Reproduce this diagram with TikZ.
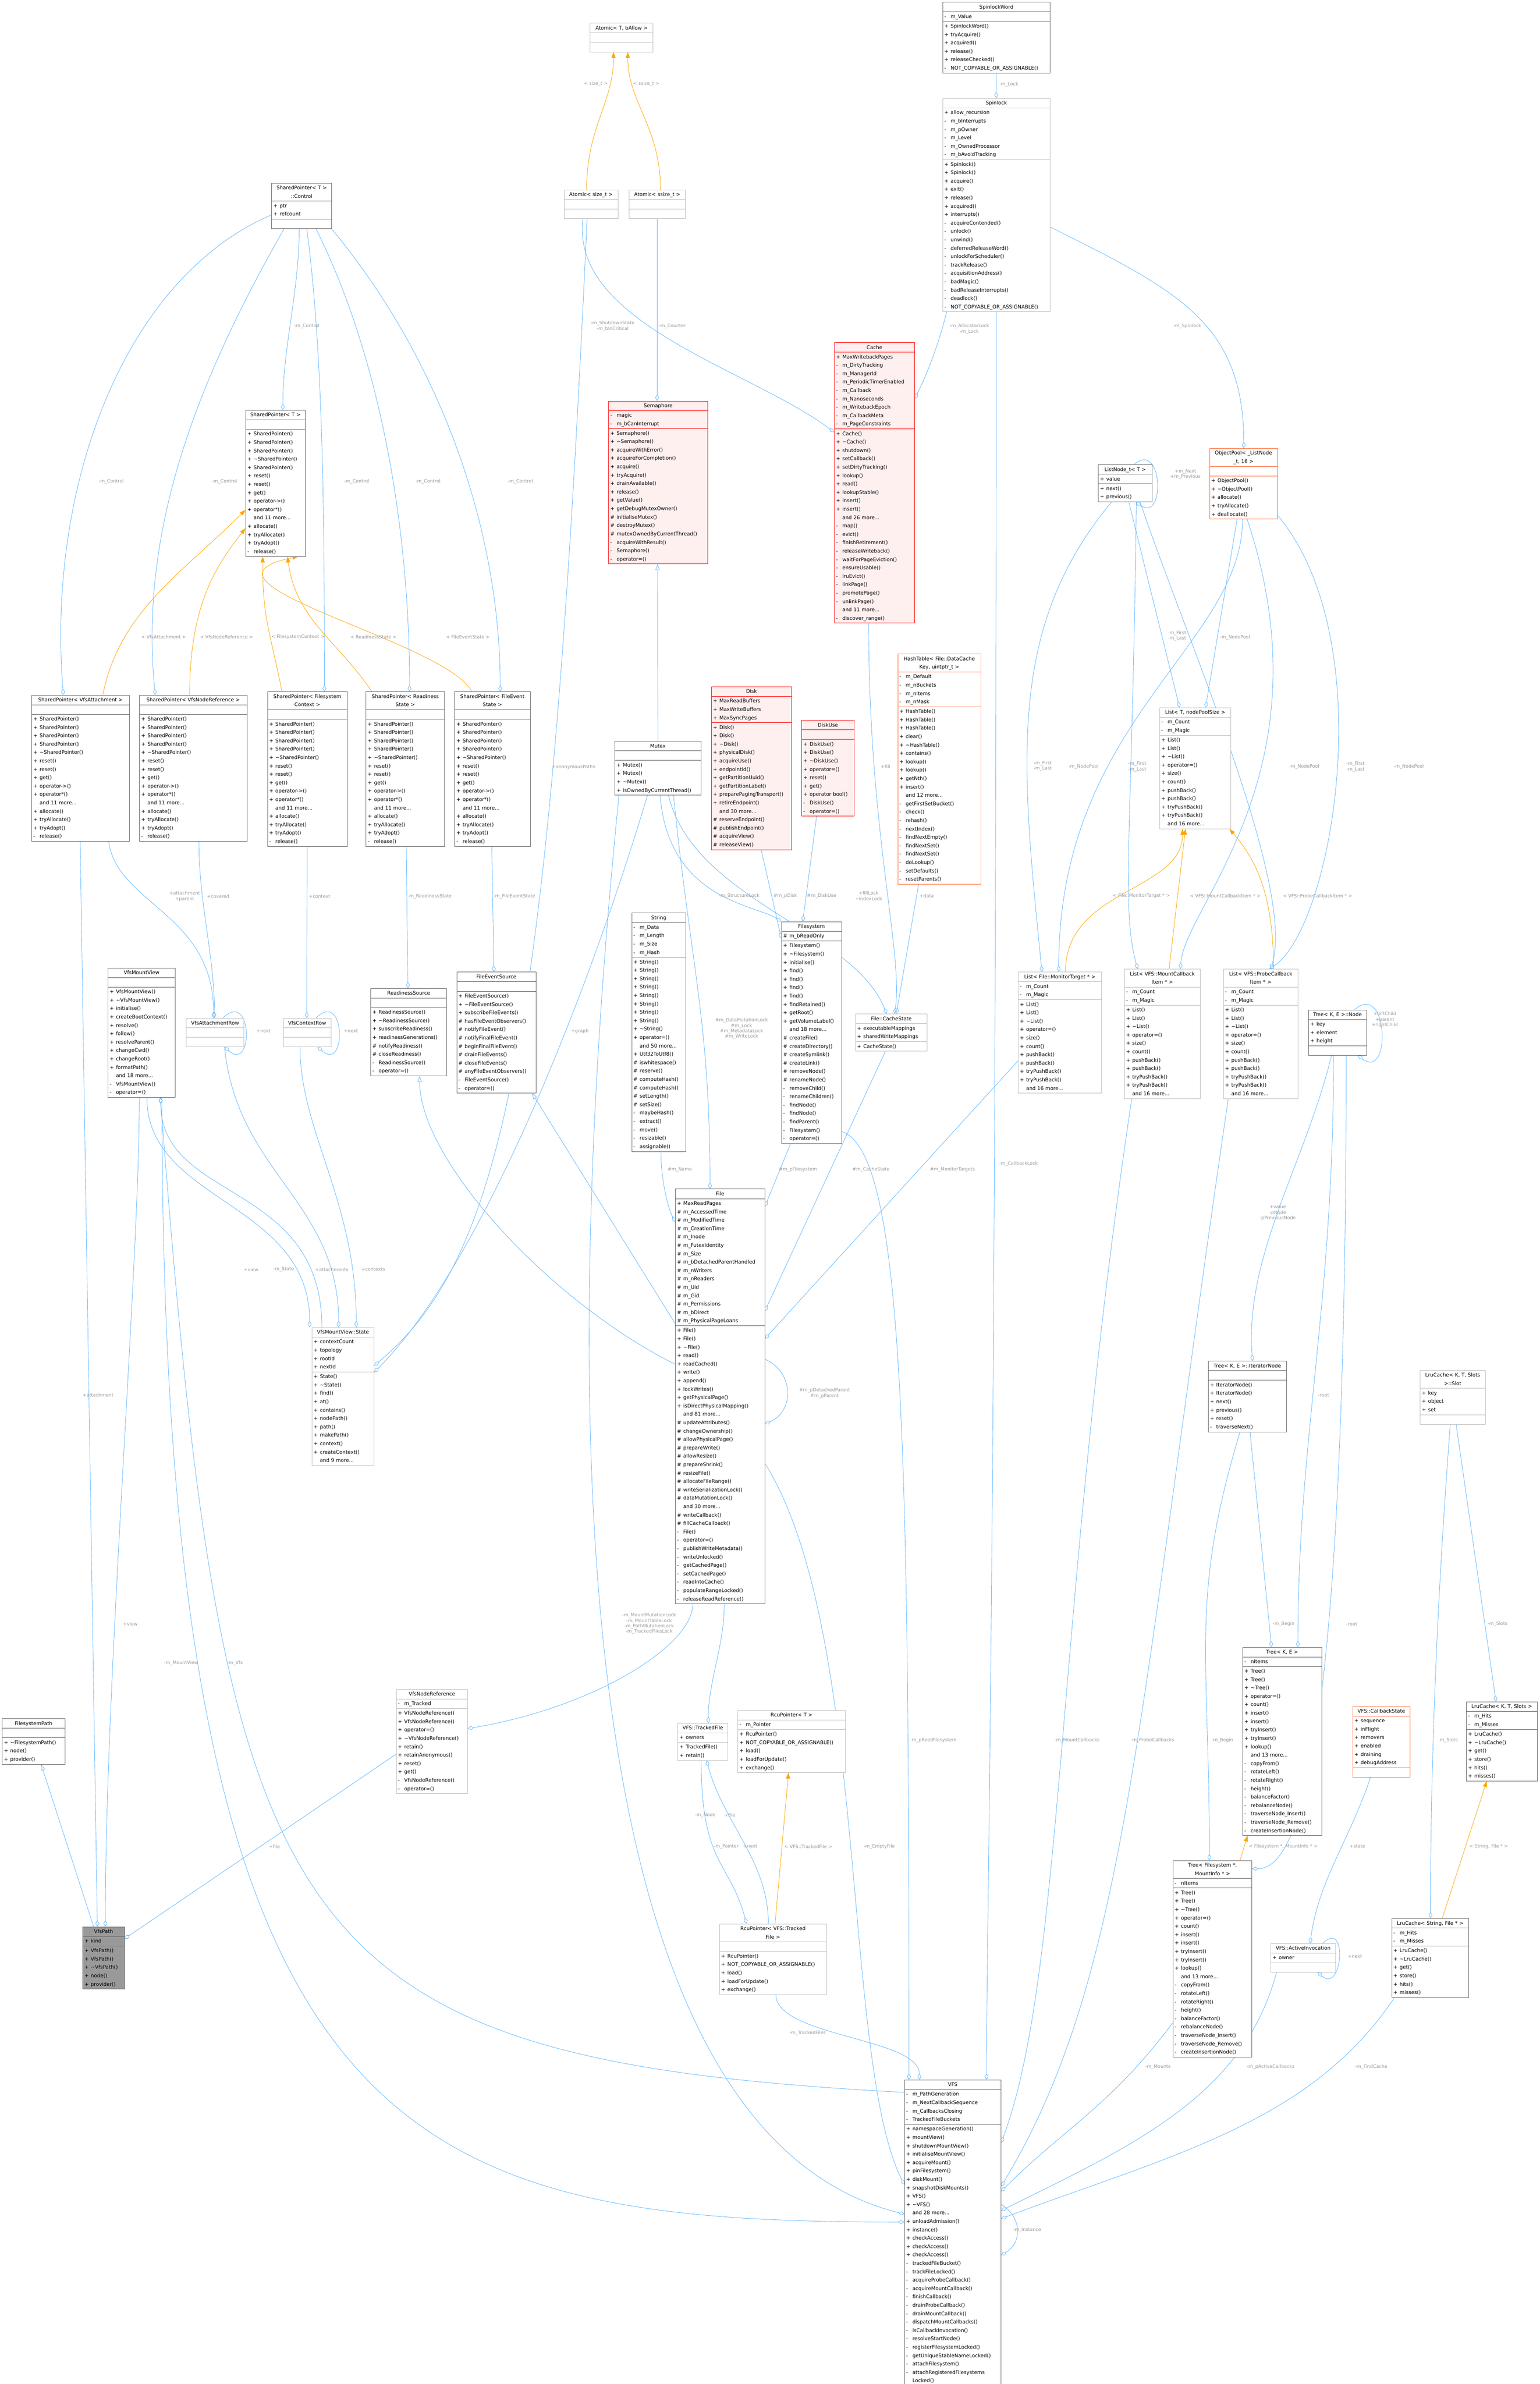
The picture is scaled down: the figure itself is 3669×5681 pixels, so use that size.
\documentclass[tikz,border=0pt]{standalone}
\usepackage{fontspec}
\setmainfont{DejaVu Sans}
\usetikzlibrary{shapes.multipart,arrows.meta}
\definecolor{eblue}{HTML}{63B8FF}
\definecolor{eorg}{HTML}{FFA500}
\definecolor{lblc}{HTML}{9A9A9A}
\definecolor{bgray}{HTML}{666666}
\definecolor{lgray}{HTML}{BFBFBF}
\definecolor{redfill}{HTML}{FFF0F0}
\definecolor{orgb}{HTML}{FF6A33}
\definecolor{rootf}{HTML}{999999}
\pgfdeclarelayer{bb}\pgfdeclarelayer{bg}\pgfsetlayers{bb,bg,main}
\newcommand\clsfont{\fontsize{12}{20}\selectfont}
\newcommand\T[1]{\makebox[\hsize][c]{\strut #1}\par}
\newcommand\rw[2]{\strut\makebox[15pt][l]{#1}#2\par}
\newcommand\pub[1]{\rw{+}{#1}}
\newcommand\pri[1]{\rw{-}{#1}}
\newcommand\pro[1]{\rw{\#}{#1}}
\newcommand\nop[1]{\rw{}{#1}}
\newcommand\emp{\strut\par}
\newcommand\tl{\textasciitilde}
\newcommand\cls[8]{\node[cls,#5,text width=\dimexpr #4pt-8pt\relax] (#1) at (#2,#3) {#6\nodepart{two}#7\nodepart{three}#8};}
\newcommand\Tp[2]{([shift={(#2,0)}]#1.north west)}
\newcommand\Bt[2]{([shift={(#2,0)}]#1.south west)}
\newcommand\Lf[2]{([shift={(0,#2)}]#1.north west)}
\newcommand\Rt[2]{([shift={(0,#2)}]#1.north east)}
\newcommand\ed[5][agg]{\draw[#1] #2 .. controls +(#4) and +(#5) .. #3;}
\newcommand\lb[3][west]{\node[lbl,anchor=#1] at (#2) {#3};}
\newcommand\spm{\pub{SharedPointer()}\pub{SharedPointer()}\pub{SharedPointer()}\pub{SharedPointer()}\pub{\tl SharedPointer()}\pub{reset()}\pub{reset()}\pub{get()}\pub{operator->()}\pub{operator*()}\nop{and 11 more...}\pub{allocate()}\pub{tryAllocate()}\pub{tryAdopt()}\pri{release()}}
\newcommand\lsm{\pri{m\_Count}\pri{m\_Magic}}
\newcommand\lmm{\pub{List()}\pub{List()}\pub{\tl List()}\pub{operator=()}\pub{size()}\pub{count()}\pub{pushBack()}\pub{pushBack()}\pub{tryPushBack()}\pub{tryPushBack()}\nop{and 16 more...}}
\newcommand\trm{\pub{Tree()}\pub{Tree()}\pub{\tl Tree()}\pub{operator=()}\pub{count()}\pub{insert()}\pub{insert()}\pub{tryInsert()}\pub{tryInsert()}\pub{lookup()}\nop{and 13 more...}\pri{copyFrom()}\pri{rotateLeft()}\pri{rotateRight()}\pri{height()}\pri{balanceFactor()}\pri{rebalanceNode()}\pri{traverseNode\_Insert()}\pri{traverseNode\_Remove()}\pri{createInsertionNode()}}
\newcommand\lrm{\pub{LruCache()}\pub{\tl LruCache()}\pub{get()}\pub{store()}\pub{hits()}\pub{misses()}}
\newcommand\rcm{\pub{RcuPointer()}\pub{NOT\_COPYABLE\_OR\_ASSIGNABLE()}\pub{load()}\pub{loadForUpdate()}\pub{exchange()}}
\begin{document}
\begin{tikzpicture}[x=1pt,y=-1pt,
 cls/.style={rectangle split,rectangle split parts=3,draw=bgray,fill=white,line width=0.8pt,inner xsep=4pt,inner ysep=1pt,align=left,font=\clsfont,anchor=north west},
 lt/.style={draw=lgray},
 rd/.style={draw=red,fill=redfill},
 og/.style={draw=orgb},
 rt/.style={fill=rootf},
 agg/.style={draw=eblue,line width=1pt,-{Diamond[open,length=15pt,width=9pt]}},
 inh/.style={draw=eblue,line width=1pt,-{Triangle[open,length=14pt,width=10pt]}},
 tpl/.style={draw=eorg,line width=1pt,-{Triangle[length=14pt,width=10pt]}},
 lbl/.style={text=lblc,font=\fontsize{11}{13}\selectfont,align=center,inner sep=1pt}]
\begin{pgfonlayer}{bb}
\fill[white] (0,0) rectangle (3669,5681);
\end{pgfonlayer}
\useasboundingbox (0,0) rectangle (3669,5681);
% ---------- classes
\cls{AtT}{1406}{55}{150}{lt}{\T{Atomic< T, bAllow >}}{\emp}{\emp}
\cls{AtSz}{1344}{452}{128}{lt}{\T{Atomic< size\_t >}}{\emp}{\emp}
\cls{AtSs}{1499}{452}{134}{lt}{\T{Atomic< ssize\_t >}}{\emp}{\emp}
\cls{Ctrl}{647}{436}{143}{}{\T{SharedPointer< T >}\T{::Control}}{\pub{ptr}\pub{refcount}}{\emp}
\cls{SPT}{585}{977}{142}{}{\T{SharedPointer< T >}}{\emp}{\pub{SharedPointer()}\pub{SharedPointer()}\pub{SharedPointer()}\pub{\tl SharedPointer()}\pub{SharedPointer()}\pub{reset()}\pub{reset()}\pub{get()}\pub{operator->()}\pub{operator*()}\nop{and 11 more...}\pub{allocate()}\pub{tryAllocate()}\pub{tryAdopt()}\pri{release()}}
\cls{SPA}{75}{1656}{233}{}{\T{SharedPointer< VfsAttachment >}}{\emp}{\spm}
\cls{SPN}{332}{1656}{256}{}{\T{SharedPointer< VfsNodeReference >}}{\emp}{\spm}
\cls{SPF}{637}{1648}{190}{}{\T{SharedPointer< Filesystem}\T{Context >}}{\emp}{\spm}
\cls{SPR}{872}{1648}{187}{}{\T{SharedPointer< Readiness}\T{State >}}{\emp}{\spm}
\cls{SPE}{1083}{1648}{180}{}{\T{SharedPointer< FileEvent}\T{State >}}{\emp}{\spm}
\cls{Sem}{1450}{955}{236}{rd}{\T{Semaphore}}{\pri{magic}\pri{m\_bCanInterrupt}}{\pub{Semaphore()}\pub{\tl Semaphore()}\pub{acquireWithError()}\pub{acquireForCompletion()}\pub{acquire()}\pub{tryAcquire()}\pub{drainAvailable()}\pub{release()}\pub{getValue()}\pub{getDebugMutexOwner()}\pro{initialiseMutex()}\pro{destroyMutex()}\pro{mutexOwnedByCurrentThread()}\pri{acquireWithResult()}\pri{Semaphore()}\pri{operator=()}}
\cls{Cache}{1988}{816}{191}{rd}{\T{Cache}}{\pub{MaxWritebackPages}\pri{m\_DirtyTracking}\pri{m\_ManagerId}\pri{m\_PeriodicTimerEnabled}\pri{m\_Callback}\pri{m\_Nanoseconds}\pri{m\_WritebackEpoch}\pri{m\_CallbackMeta}\pri{m\_PageConstraints}}{\pub{Cache()}\pub{\tl Cache()}\pub{shutdown()}\pub{setCallback()}\pub{setDirtyTracking()}\pub{lookup()}\pub{read()}\pub{lookupStable()}\pub{insert()}\pub{insert()}\nop{and 26 more...}\pri{map()}\pri{evict()}\pri{finishRetirement()}\pri{releaseWriteback()}\pri{waitForPageEviction()}\pri{ensureUsable()}\pri{lruEvict()}\pri{linkPage()}\pri{promotePage()}\pri{unlinkPage()}\nop{and 11 more...}\pri{discover\_range()}}
\cls{Mutex}{1465}{1766}{205}{}{\T{Mutex}}{\emp}{\pub{Mutex()}\pub{Mutex()}\pub{\tl Mutex()}\pub{isOwnedByCurrentThread()}}
\cls{Disk}{1695}{1636}{191}{rd}{\T{Disk}}{\pub{MaxReadBuffers}\pub{MaxWriteBuffers}\pub{MaxSyncPages}}{\pub{Disk()}\pub{Disk()}\pub{\tl Disk()}\pub{physicalDisk()}\pub{acquireUse()}\pub{endpointId()}\pub{getPartitionUuid()}\pub{getPartitionLabel()}\pub{preparePagingTransport()}\pub{retireEndpoint()}\nop{and 30 more...}\pro{reserveEndpoint()}\pro{publishEndpoint()}\pro{acquireView()}\pro{releaseView()}}
\cls{DiskUse}{1910}{1716}{125}{rd}{\T{DiskUse}}{\emp}{\pub{DiskUse()}\pub{DiskUse()}\pub{\tl DiskUse()}\pub{operator=()}\pub{reset()}\pub{get()}\pub{operator bool()}\pri{DiskUse()}\pri{operator=()}}
\cls{HT}{2139}{1558}{198}{og}{\T{HashTable< File::DataCache}\T{Key, uintptr\_t >}}{\pri{m\_Default}\pri{m\_nBuckets}\pri{m\_nItems}\pri{m\_nMask}}{\pub{HashTable()}\pub{HashTable()}\pub{HashTable()}\pub{clear()}\pub{\tl HashTable()}\pub{contains()}\pub{lookup()}\pub{lookup()}\pub{getNth()}\pub{insert()}\nop{and 12 more...}\pri{getFirstSetBucket()}\pri{check()}\pri{rehash()}\pri{nextIndex()}\pri{findNextEmpty()}\pri{findNextSet()}\pri{findNextSet()}\pri{doLookup()}\pri{setDefaults()}\pri{resetParents()}}
\cls{SpW}{2246}{5}{256}{}{\T{SpinlockWord}}{\pri{m\_Value}}{\pub{SpinlockWord()}\pub{tryAcquire()}\pub{acquired()}\pub{release()}\pub{releaseChecked()}\pri{NOT\_COPYABLE\_OR\_ASSIGNABLE()}}
\cls{Spl}{2246}{234}{256}{lt}{\T{Spinlock}}{\pub{allow\_recursion}\pri{m\_bInterrupts}\pri{m\_pOwner}\pri{m\_Level}\pri{m\_OwnedProcessor}\pri{m\_bAvoidTracking}}{\pub{Spinlock()}\pub{Spinlock()}\pub{acquire()}\pub{exit()}\pub{release()}\pub{acquired()}\pub{interrupts()}\pri{acquireContended()}\pri{unlock()}\pri{unwind()}\pri{deferredReleaseWord()}\pri{unlockForScheduler()}\pri{trackRelease()}\pri{acquisitionAddress()}\pri{badMagic()}\pri{badReleaseInterrupts()}\pri{deadlock()}\pri{NOT\_COPYABLE\_OR\_ASSIGNABLE()}}
\cls{Str}{1505}{2175}{129}{}{\T{String}}{\pri{m\_Data}\pri{m\_Length}\pri{m\_Size}\pri{m\_Hash}}{\pub{String()}\pub{String()}\pub{String()}\pub{String()}\pub{String()}\pub{String()}\pub{String()}\pub{String()}\pub{\tl String()}\pub{operator=()}\nop{and 50 more...}\pub{Utf32ToUtf8()}\pro{iswhitespace()}\pro{reserve()}\pro{computeHash()}\pro{computeHash()}\pro{setLength()}\pro{setSize()}\pri{maybeHash()}\pri{extract()}\pri{move()}\pri{resizable()}\pri{assignable()}}
\cls{Fs}{1862}{2196}{143}{}{\T{Filesystem}}{\pro{m\_bReadOnly}}{\pub{Filesystem()}\pub{\tl Filesystem()}\pub{initialise()}\pub{find()}\pub{find()}\pub{find()}\pub{find()}\pub{findRetained()}\pub{getRoot()}\pub{getVolumeLabel()}\nop{and 18 more...}\pro{createFile()}\pro{createDirectory()}\pro{createSymlink()}\pro{createLink()}\pro{removeNode()}\pro{renameNode()}\pri{removeChild()}\pri{renameChildren()}\pri{findNode()}\pri{findNode()}\pri{findParent()}\pri{Filesystem()}\pri{operator=()}}
\cls{CS}{2038}{2416}{171}{lt}{\T{File::CacheState}}{\pub{executableMappings}\pub{sharedWriteMappings}}{\pub{CacheState()}}
\cls{File}{1609}{2833}{213}{}{\T{File}}{\pub{MaxReadPages}\pro{m\_AccessedTime}\pro{m\_ModifiedTime}\pro{m\_CreationTime}\pro{m\_Inode}\pro{m\_FutexIdentity}\pro{m\_Size}\pro{m\_bDetachedParentHandled}\pro{m\_nWriters}\pro{m\_nReaders}\pro{m\_Uid}\pro{m\_Gid}\pro{m\_Permissions}\pro{m\_bDirect}\pro{m\_PhysicalPageLoans}}{\pub{File()}\pub{File()}\pub{\tl File()}\pub{read()}\pub{readCached()}\pub{write()}\pub{append()}\pub{lockWrites()}\pub{getPhysicalPage()}\pub{isDirectPhysicalMapping()}\nop{and 81 more...}\pro{updateAttributes()}\pro{changeOwnership()}\pro{allowPhysicalPage()}\pro{prepareWrite()}\pro{allowResize()}\pro{prepareShrink()}\pro{resizeFile()}\pro{allocateFileRange()}\pro{writeSerializationLock()}\pro{dataMutationLock()}\nop{and 30 more...}\pro{writeCallback()}\pro{fillCacheCallback()}\pri{File()}\pri{operator=()}\pri{publishWriteMetadata()}\pri{writeUnlocked()}\pri{getCachedPage()}\pri{setCachedPage()}\pri{readIntoCache()}\pri{populateRangeLocked()}\pri{releaseReadReference()}}
\cls{LN}{2617}{1107}{128}{}{\T{ListNode\_t< T >}}{\pub{value}}{\pub{next()}\pub{previous()}}
\cls{ObjP}{2882}{1068}{162}{og}{\T{ObjectPool< \_ListNode}\T{\_t, 16 >}}{\emp}{\pub{ObjectPool()}\pub{\tl ObjectPool()}\pub{allocate()}\pub{tryAllocate()}\pub{deallocate()}}
\cls{LT}{2763}{1686}{170}{lt}{\T{List< T, nodePoolSize >}}{\lsm}{\lmm}
\cls{LMT}{2426}{2316}{199}{lt}{\T{List< File::MonitorTarget * >}}{\lsm}{\lmm}
\cls{LMC}{2679}{2309}{181}{lt}{\T{List< VFS::MountCallback}\T{Item * >}}{\lsm}{\lmm}
\cls{LPC}{2915}{2309}{178}{lt}{\T{List< VFS::ProbeCallback}\T{Item * >}}{\lsm}{\lmm}
\cls{TN}{3118}{2406}{138}{}{\T{Tree< K, E >::Node}}{\pub{key}\pub{element}\pub{height}}{\emp}
\cls{IN}{2879}{3243}{186}{}{\T{Tree< K, E >::IteratorNode}}{\emp}{\pub{IteratorNode()}\pub{IteratorNode()}\pub{next()}\pub{previous()}\pub{reset()}\pri{traverseNext()}}
\cls{Slot}{3384}{3265}{155}{lt}{\T{LruCache< K, T, Slots}\T{>::Slot}}{\pub{key}\pub{object}\pub{set}}{\emp}
\cls{TKE}{2961}{3925}{188}{}{\T{Tree< K, E >}}{\pri{nItems}}{\trm}
\cls{CBS}{3223}{4066}{137}{og}{\T{VFS::CallbackState}}{\pub{sequence}\pub{inFlight}\pub{removers}\pub{enabled}\pub{draining}\pub{debugAddress}}{\emp}
\cls{LKTS}{3494}{4055}{169}{}{\T{LruCache< K, T, Slots >}}{\pri{m\_Hits}\pri{m\_Misses}}{\lrm}
\cls{TFM}{2795}{4433}{188}{}{\T{Tree< Filesystem *,}\T{MountInfo * >}}{\pri{nItems}}{\trm}
\cls{AI}{3028}{4631}{154}{lt}{\T{VFS::ActiveInvocation}}{\pub{owner}}{\emp}
\cls{LSF}{3316}{4571}{184}{}{\T{LruCache< String, File * >}}{\pri{m\_Hits}\pri{m\_Misses}}{\lrm}
\cls{VFS}{2155}{4956}{230}{}{\T{VFS}}{\pri{m\_PathGeneration}\pri{m\_NextCallbackSequence}\pri{m\_CallbacksClosing}\pri{TrackedFileBuckets}}{\pub{namespaceGeneration()}\pub{mountView()}\pub{shutdownMountView()}\pub{initialiseMountView()}\pub{acquireMount()}\pub{pinFilesystem()}\pub{diskMount()}\pub{snapshotDiskMounts()}\pub{VFS()}\pub{\tl VFS()}\nop{and 28 more...}\pub{unloadAdmission()}\pub{instance()}\pub{checkAccess()}\pub{checkAccess()}\pub{checkAccess()}\pri{trackedFileBucket()}\pri{trackFileLocked()}\pri{acquireProbeCallback()}\pri{acquireMountCallback()}\pri{finishCallback()}\pri{drainProbeCallback()}\pri{drainMountCallback()}\pri{dispatchMountCallbacks()}\pri{isCallbackInvocation()}\pri{resolveStartNode()}\pri{registerFilesystemLocked()}\pri{getUniqueStableNameLocked()}\pri{attachFilesystem()}\pri{attachRegisteredFilesystems}\nop{Locked()}}
\cls{VMV}{257}{2306}{160}{}{\T{VfsMountView}}{\emp}{\pub{VfsMountView()}\pub{\tl VfsMountView()}\pub{initialise()}\pub{createBootContext()}\pub{resolve()}\pub{follow()}\pub{resolveParent()}\pub{changeCwd()}\pub{changeRoot()}\pub{formatPath()}\nop{and 18 more...}\pri{VfsMountView()}\pri{operator=()}}
\cls{VAR}{443}{2426}{138}{lt}{\T{VfsAttachmentRow}}{\emp}{\emp}
\cls{VCR}{675}{2426}{113}{lt}{\T{VfsContextRow}}{\emp}{\emp}
\cls{RS}{883}{2355}{181}{}{\T{ReadinessSource}}{\emp}{\pub{ReadinessSource()}\pub{\tl ReadinessSource()}\pub{subscribeReadiness()}\pub{readinessGenerations()}\pro{notifyReadiness()}\pro{closeReadiness()}\pri{ReadinessSource()}\pri{operator=()}}
\cls{FES}{1088}{2316}{189}{}{\T{FileEventSource}}{\emp}{\pub{FileEventSource()}\pub{\tl FileEventSource()}\pub{subscribeFileEvents()}\pro{hasFileEventObservers()}\pro{notifyFileEvent()}\pro{notifyFinalFileEvent()}\pro{beginFinalFileEvent()}\pro{drainFileEvents()}\pro{closeFileEvents()}\pro{anyFileEventObservers()}\pri{FileEventSource()}\pri{operator=()}}
\cls{State}{743}{3163}{148}{lt}{\T{VfsMountView::State}}{\pub{contextCount}\pub{topology}\pub{rootId}\pub{nextId}}{\pub{State()}\pub{\tl State()}\pub{find()}\pub{at()}\pub{contains()}\pub{nodePath()}\pub{path()}\pub{makePath()}\pub{context()}\pub{createContext()}\nop{and 9 more...}}
\cls{FSP}{5}{4095}{149}{}{\T{FilesystemPath}}{\emp}{\pub{\tl FilesystemPath()}\pub{node()}\pub{provider()}}
\cls{VNR}{944}{4025}{170}{lt}{\T{VfsNodeReference}}{\pri{m\_Tracked}}{\pub{VfsNodeReference()}\pub{VfsNodeReference()}\pub{operator=()}\pub{\tl VfsNodeReference()}\pub{retain()}\pub{retainAnonymous()}\pub{reset()}\pub{get()}\pri{VfsNodeReference()}\pri{operator=()}}
\cls{VfsPath}{197}{4591}{99}{rt}{\T{VfsPath}}{\pub{kind}}{\pub{VfsPath()}\pub{VfsPath()}\pub{\tl VfsPath()}\pub{node()}\pub{provider()}}
\cls{TF}{1615}{4106}{119}{lt}{\T{VFS::TrackedFile}}{\pub{owners}}{\pub{TrackedFile()}\pub{retain()}}
\cls{RcuT}{1758}{4075}{256}{lt}{\T{RcuPointer< T >}}{\pri{m\_Pointer}}{\rcm}
\cls{RcuTF}{1714}{4584}{255}{lt}{\T{RcuPointer< VFS::Tracked}\T{File >}}{\emp}{\rcm}
% ---------- connectors
\begin{pgfonlayer}{bg}
\ed[tpl]{\Tp{AtSz}{54}}{\Bt{AtT}{56}}{0,-150}{0,120}
\ed[tpl]{\Tp{AtSs}{75}}{\Bt{AtT}{90}}{0,-150}{0,120}
\ed{\Bt{AtSz}{45}}{\Lf{Cache}{214}}{-30,250}{-200,-150}
\draw[agg] \Bt{AtSs}{67} -- \Tp{Sem}{116};
\draw[agg] \Bt{SpW}{128} -- \Tp{Spl}{128};
\ed{\Bt{Spl}{10}}{\Rt{Cache}{134}}{-20,80}{30,-60}
\ed{\Rt{Spl}{307}}{\Tp{ObjP}{82}}{300,150}{0,-300}
\ed{\Bt{Spl}{128}}{\Tp{VFS}{196}}{0,3000}{0,-400}
\ed{\Bt{Ctrl}{66}}{\Tp{SPT}{89}}{0,150}{0,-150}
\ed{\Lf{Ctrl}{76}}{\Tp{SPA}{76}}{-350,150}{-40,-500}
\ed{\Bt{Ctrl}{30}}{\Tp{SPN}{38}}{-200,350}{-40,-400}
\ed{\Bt{Ctrl}{84}}{\Tp{SPF}{136}}{40,300}{0,-400}
\ed{\Bt{Ctrl}{106}}{\Tp{SPR}{104}}{150,300}{0,-400}
\ed{\Bt{Ctrl}{143}}{\Tp{SPE}{109}}{250,300}{0,-400}
\ed[tpl]{\Tp{SPA}{170}}{\Lf{SPT}{238}}{40,-200}{-150,150}
\ed[tpl]{\Tp{SPN}{120}}{\Lf{SPT}{282}}{0,-200}{-80,100}
\ed[tpl]{\Tp{SPF}{35}}{\Bt{SPT}{41}}{-30,-150}{0,150}
\ed[tpl]{\Tp{SPR}{14}}{\Bt{SPT}{100}}{-80,-120}{20,150}
\ed[tpl]{\Tp{SPE}{41}}{\Bt{SPT}{126}}{-60,-120}{-300,60}
\ed{\Bt{SPA}{184}}{\Tp{VAR}{66}}{20,150}{0,-250}
\ed{\Bt{SPN}{142}}{\Tp{VAR}{68}}{0,150}{0,-150}
\draw[agg] \Bt{SPA}{116} -- \Tp{VfsPath}{35};
\draw[agg] \Bt{SPF}{95} -- \Tp{VCR}{56};
\draw[agg] \Bt{SPR}{96} -- \Tp{RS}{89};
\draw[agg] \Bt{SPE}{89} -- \Tp{FES}{89};
\ed{\Tp{VAR}{88}}{\Bt{VAR}{92}}{70,-70}{70,60}
\ed{\Tp{VCR}{78}}{\Bt{VCR}{82}}{70,-70}{70,60}
\ed{\Bt{VMV}{75}}{\Tp{VfsPath}{54}}{0,400}{0,-600}
\ed{\Bt{VMV}{129}}{\Lf{VFS}{339}}{0,2500}{-1200,0}
\ed{\Lf{VFS}{30}}{\Bt{VMV}{125}}{-1500,-80}{155,2000}
\ed{\Tp{State}{24}}{\Bt{VMV}{126}}{0,-350}{0,250}
\ed{\Bt{VMV}{93}}{\Tp{State}{-5}}{0,250}{0,-300}
\ed{\Bt{VAR}{92}}{\Tp{State}{64}}{30,300}{0,-300}
\ed{\Bt{VCR}{40}}{\Tp{State}{106}}{0,200}{0,-300}
\ed{\Bt{AtSz}{55}}{\Rt{State}{91}}{-90,2000}{300,-250}
\ed{\Bt{Mutex}{78}}{\Rt{State}{107}}{-150,500}{250,-250}
\draw[inh] \Tp{Mutex}{103} -- \Bt{Sem}{117};
\ed{\Bt{Mutex}{108}}{\Lf{Fs}{0}}{20,250}{-60,-40}
\draw[agg] \Bt{Disk}{119} -- \Lf{Fs}{40};
\draw[agg] \Bt{DiskUse}{36} -- \Tp{Fs}{51};
\ed{\Bt{Mutex}{128}}{\Tp{CS}{75}}{60,250}{-80,-200}
\ed{\Bt{Cache}{82}}{\Tp{CS}{94}}{0,500}{20,-150}
\draw[agg] \Bt{HT}{50} -- \Tp{CS}{98};
\ed{\Bt{Mutex}{140}}{\Tp{File}{83}}{40,400}{0,-400}
\ed{\Bt{Mutex}{10}}{\Lf{VFS}{320}}{-150,1500}{-800,-200}
\ed{\Bt{File}{42}}{\Rt{VNR}{94}}{0,100}{300,-50}
\ed{\Bt{File}{117}}{\Tp{TF}{73}}{0,100}{0,-100}
\draw[agg] \Lf{VNR}{155} -- \Rt{VfsPath}{29};
\draw[inh] \Tp{VfsPath}{26} -- \Bt{FSP}{93};
\ed{\Bt{Str}{70}}{\Lf{File}{79}}{0,60}{-20,-40}
\draw[agg] \Bt{Fs}{22} -- \Rt{File}{42};
\draw[agg] \Bt{CS}{72} -- \Rt{File}{291};
\draw[agg] \Lf{LMT}{212} -- \Rt{File}{357};
\ed{\Rt{File}{406}}{\Rt{File}{560}}{70,30}{70,-30}
\draw[inh] \Lf{File}{321} -- \Bt{FES}{180};
\ed[inh]{\Lf{File}{418}}{\Bt{RS}{117}}{-300,-150}{0,200}
\ed{\Bt{TF}{56}}{\Tp{RcuTF}{65}}{0,250}{-40,-150}
\ed{\Tp{RcuTF}{117}}{\Bt{TF}{69}}{0,-150}{40,150}
\draw[tpl] \Tp{RcuTF}{133} -- \Bt{RcuT}{121};
\ed{\Bt{RcuTF}{135}}{\Tp{VFS}{36}}{0,100}{0,-100}
\ed{\Rt{File}{654}}{\Lf{VFS}{250}}{250,400}{-150,-300}
\ed{\Rt{Fs}{500}}{\Tp{VFS}{11}}{150,50}{0,-1500}
\ed{\Bt{LMC}{18}}{\Rt{VFS}{150}}{-180,1200}{150,-400}
\ed{\Bt{LPC}{12}}{\Rt{VFS}{254}}{-220,1500}{300,-500}
\ed{\Lf{TFM}{387}}{\Rt{VFS}{266}}{-150,200}{150,-150}
\ed{\Bt{AI}{14}}{\Rt{VFS}{312}}{-80,300}{300,-150}
\ed{\Bt{LSF}{7}}{\Rt{VFS}{331}}{-200,300}{400,-150}
\ed{\Rt{VFS}{297}}{\Rt{VFS}{418}}{50,30}{50,-30}
\ed{\Bt{CBS}{43}}{\Tp{AI}{94}}{-50,150}{20,-150}
\ed{\Tp{AI}{124}}{\Bt{AI}{112}}{60,-60}{60,50}
\draw[tpl] \Tp{LSF}{121} -- \Bt{LKTS}{49};
\draw[agg] \Bt{Slot}{86} -- \Tp{LKTS}{71};
\ed{\Bt{Slot}{72}}{\Tp{LSF}{93}}{-30,400}{0,-400}
\draw[tpl] \Tp{TFM}{160} -- \Bt{TKE}{12};
\draw[agg] \Bt{IN}{100} -- \Tp{TKE}{69};
\ed{\Bt{IN}{76}}{\Tp{TFM}{87}}{-120,400}{0,-500}
\ed{\Bt{TN}{60}}{\Tp{TKE}{132}}{0,600}{0,-500}
\ed{\Bt{TN}{90}}{\Rt{TFM}{20}}{0,1600}{120,0}
\ed{\Bt{TN}{55}}{\Tp{IN}{106}}{-60,250}{-20,-250}
\ed{\Tp{TN}{110}}{\Bt{TN}{118}}{80,-70}{80,60}
\ed{\Tp{LN}{85}}{\Bt{LN}{90}}{70,-60}{70,50}
\draw[agg] \Bt{LN}{73} -- \Tp{LT}{48};
\draw[agg] \Bt{ObjP}{66} -- \Tp{LT}{110};
\ed{\Bt{LN}{32}}{\Tp{LMT}{57}}{-250,300}{-50,-500}
\ed{\Bt{ObjP}{79}}{\Tp{LMT}{97}}{0,300}{0,-600}
\ed{\Bt{LN}{91}}{\Tp{LMC}{32}}{-10,800}{-40,-150}
\ed{\Bt{ObjP}{90}}{\Tp{LMC}{134}}{200,600}{10,-150}
\ed{\Bt{LN}{100}}{\Tp{LPC}{113}}{100,300}{60,-200}
\ed{\Rt{ObjP}{160}}{\Tp{LPC}{110}}{250,300}{150,-100}
\ed[tpl]{\Tp{LMT}{113}}{\Bt{LT}{55}}{0,-200}{0,150}
\draw[tpl] \Tp{LMC}{107} -- \Bt{LT}{62};
\ed[tpl]{\Tp{LPC}{120}}{\Bt{LT}{167}}{0,-200}{50,60}
\end{pgfonlayer}
% ---------- labels
\lb[center]{1420,200}{< size\_t >}
\lb[center]{1540,200}{< ssize\_t >}
\lb[center]{1460,777}{-m\_ShutdownState\\-m\_bInCritical}
\lb{1569,777}{-m\_Counter}
\lb{2380,201}{-m\_Lock}
\lb[center]{2310,784}{-m\_AllocatorLock\\-m\_Lock}
\lb{2795,777}{-m\_Spinlock}
\lb{2380,2773}{-m\_CallbackLock}
\lb{700,777}{-m\_Control}
\lb[center]{265,1147}{-m\_Control}
\lb[center]{535,1147}{-m\_Control}
\lb[center]{850,1147}{-m\_Control}
\lb[center]{1020,1147}{-m\_Control}
\lb[center]{1240,1147}{-m\_Control}
\lb[center]{390,1518}{< VfsAttachment >}
\lb[center]{540,1518}{< VfsNodeReference >}
\lb[center]{710,1518}{< FilesystemContext >}
\lb[center]{890,1518}{< ReadinessState >}
\lb[center]{1115,1518}{< FileEventState >}
\lb[center]{440,2136}{+attachment\\+parent}
\lb{492,2136}{+covered}
\lb{735,2136}{+context}
\lb{970,2136}{-m\_ReadinessState}
\lb{1175,2136}{-m\_FileEventState}
\lb{610,2457}{+next}
\lb{818,2457}{+next}
\lb{196,3324}{+attachment}
\lb{292,3870}{+view}
\lb{390,3963}{-m\_MountView}
\lb{540,3963}{-m\_Vfs}
\lb{580,3025}{+view}
\lb{650,3025}{-m\_State}
\lb{750,3025}{+attachments}
\lb{860,3025}{+contexts}
\lb{1314,1828}{+anonymousPaths}
\lb{1360,2457}{+graph}
\lb{1712,2135}{-m\_StructureLock}
\lb{1842,2135}{\#m\_pDisk}
\lb{1922,2135}{\#m\_DiskUse}
\lb[center]{2070,2135}{+fillLock\\+indexLock}
\lb{2098,1827}{+fill}
\lb{2190,2135}{+data}
\lb[center]{1767,2451}{\#m\_DataMutationLock\\\#m\_Lock\\\#m\_MetadataLock\\\#m\_WriteLock}
\lb[center]{1547,3869}{-m\_MountMutationLock\\-m\_MountTableLock\\-m\_PathMutationLock\\-m\_TrackedFilesLock}
\lb{1655,4325}{-m\_Node}
\lb{1725,4325}{+file}
\lb{640,4400}{+file}
\lb{1590,2787}{\#m\_Name}
\lb{1855,2787}{\#m\_pFilesystem}
\lb{2030,2787}{\#m\_CacheState}
\lb{2215,2787}{\#m\_MonitorTargets}
\lb[center]{1965,3320}{\#m\_pDetachedParent\\\#m\_pParent}
\lb{1700,4400}{-m\_Pointer}
\lb{1770,4400}{+next}
\lb{1868,4400}{< VFS::TrackedFile >}
\lb{1880,4845}{-m\_TrackedFiles}
\lb{2057,4400}{-m\_EmptyFile}
\lb{2168,4147}{-m\_pRootFilesystem}
\lb{2512,4147}{-m\_MountCallbacks}
\lb{2693,4147}{-m\_ProbeCallbacks}
\lb{2728,4925}{-m\_Mounts}
\lb{2970,4925}{-m\_pActiveCallbacks}
\lb{3228,4925}{-m\_FindCache}
\lb{2413,5314}{-m\_Instance}
\lb{3215,4400}{+state}
\lb{3211,4662}{+next}
\lb{3500,4400}{< String, File * >}
\lb{3544,3870}{-m\_Slots}
\lb{3426,4147}{-m\_Slots}
\lb{2975,4400}{< Filesystem *, MountInfo * >}
\lb{3032,3870}{-m\_Begin}
\lb{2886,4147}{-m\_Begin}
\lb{3140,3325}{-root}
\lb{3207,3870}{-root}
\lb[center]{3045,2890}{+value\\-pNode\\-pPreviousNode}
\lb[center]{3300,2430}{+leftChild\\+parent\\+rightChild}
\lb[center]{2825,1130}{+m\_Next\\+m\_Previous}
\lb[center]{2805,1515}{-m\_First\\-m\_Last}
\lb{2906,1519}{-m\_NodePool}
\lb[center]{2485,1825}{-m\_First\\-m\_Last}
\lb{2545,1827}{-m\_NodePool}
\lb[center]{2710,1827}{-m\_First\\-m\_Last}
\lb{3071,1827}{-m\_NodePool}
\lb[center]{3230,1827}{-m\_First\\-m\_Last}
\lb{3320,1827}{-m\_NodePool}
\lb[center]{2720,2135}{< File::MonitorTarget * >}
\lb[center]{2920,2135}{< VFS::MountCallbackItem * >}
\lb[center]{3140,2135}{< VFS::ProbeCallbackItem * >}
\end{tikzpicture}
\end{document}
